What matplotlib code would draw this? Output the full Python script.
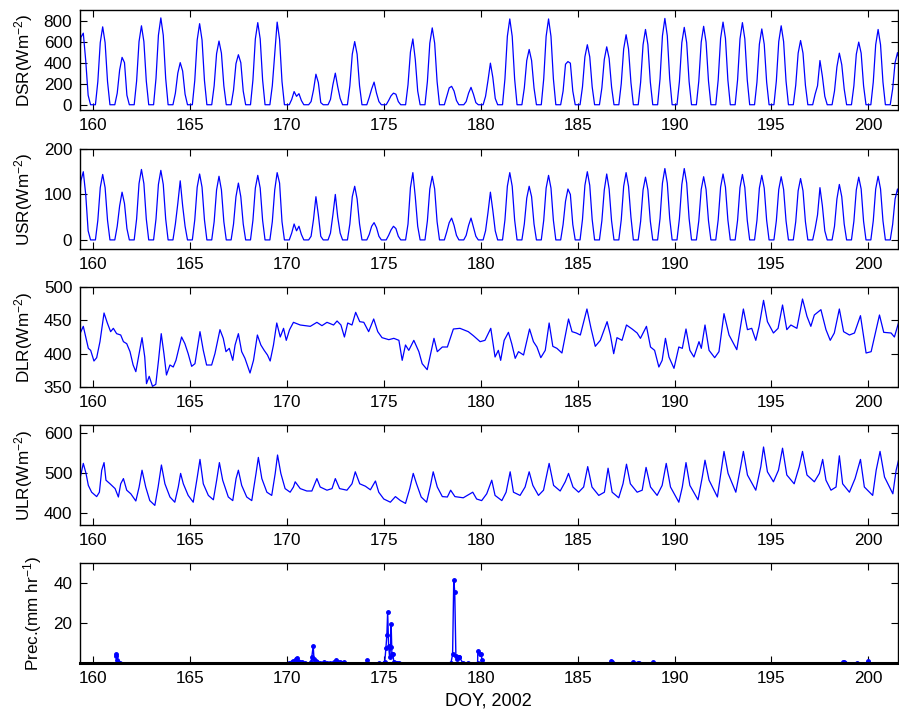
import numpy as np
import matplotlib
matplotlib.use("Agg")
import matplotlib.pyplot as plt

plt.rcParams['font.family'] = ['Liberation Sans', 'DejaVu Sans']
plt.rcParams['mathtext.fontset'] = 'custom'
plt.rcParams['mathtext.rm'] = 'Liberation Sans'
plt.rcParams['mathtext.it'] = 'Liberation Sans:italic'

# ---- data ----
DAYS = list(range(159, 202))
HOURS = [0, 3, 6, 9, 12, 15, 18, 21]

# downward shortwave, one row per day, 3-hourly readings (W m-2)
DSR = [
    [0, 0, 200, 640, 680, 420, 90, 0],    # 159
    [0, 0, 220, 590, 740, 590, 220, 0],
    [0, 0, 110, 330, 450, 400, 90, 0],
    [0, 0, 225, 600, 750, 600, 225, 0],
    [0, 0, 250, 660, 825, 660, 250, 0],
    [0, 0, 110, 300, 400, 320, 100, 0],   # 164
    [0, 0, 230, 615, 770, 615, 230, 0],
    [0, 0, 180, 485, 605, 490, 180, 0],
    [0, 0, 140, 390, 475, 400, 130, 0],
    [0, 0, 235, 625, 780, 625, 235, 0],
    [0, 0, 180, 480, 785, 620, 220, 0],   # 169
    [0, 0, 50, 125, 80, 105, 40, 0],
    [0, 0, 30, 140, 290, 210, 20, 0],
    [0, 0, 50, 190, 300, 170, 60, 0],
    [0, 0, 180, 480, 600, 480, 180, 0],
    [0, 0, 70, 150, 215, 110, 30, 0],     # 174
    [0, 0, 40, 85, 110, 100, 30, 0],
    [0, 0, 190, 500, 625, 430, 130, 0],
    [0, 0, 220, 585, 730, 585, 220, 0],
    [0, 0, 80, 160, 175, 130, 40, 0],
    [0, 0, 30, 110, 165, 100, 20, 0],     # 179
    [0, 0, 80, 230, 395, 260, 60, 0],
    [0, 0, 245, 650, 815, 650, 245, 0],
    [0, 0, 160, 420, 525, 420, 160, 0],
    [0, 0, 245, 650, 815, 650, 245, 0],
    [0, 0, 130, 385, 410, 395, 130, 0],   # 184
    [0, 0, 170, 455, 570, 455, 170, 0],
    [0, 0, 160, 430, 550, 440, 170, 0],
    [0, 0, 200, 530, 665, 530, 210, 0],
    [0, 0, 215, 570, 715, 570, 215, 0],
    [0, 0, 245, 655, 820, 655, 245, 0],   # 189
    [0, 0, 220, 590, 735, 590, 220, 0],
    [0, 0, 225, 595, 745, 595, 225, 0],
    [0, 0, 235, 630, 785, 630, 235, 0],
    [0, 0, 235, 625, 780, 625, 235, 0],
    [0, 0, 215, 575, 720, 575, 215, 0],   # 194
    [0, 0, 225, 600, 750, 600, 225, 0],
    [0, 0, 185, 490, 610, 490, 185, 0],
    [0, 0, 100, 180, 420, 270, 80, 0],
    [0, 0, 130, 360, 490, 380, 150, 0],
    [0, 0, 180, 480, 595, 490, 180, 0],   # 199
    [0, 0, 215, 570, 715, 570, 215, 0],
    [0, 0, 150, 400, 495, 400, 150, 0],
]

# upward shortwave, same layout
USR = [
    [0, 0, 50, 130, 150, 100, 20, 0],     # 159
    [0, 0, 43, 115, 144, 115, 43, 0],
    [0, 0, 30, 75, 105, 80, 25, 0],
    [0, 0, 46, 124, 155, 124, 46, 0],
    [0, 0, 46, 122, 153, 122, 46, 0],
    [0, 0, 35, 80, 130, 75, 30, 0],       # 164
    [0, 0, 44, 116, 145, 116, 44, 0],
    [0, 0, 40, 110, 140, 110, 40, 0],
    [0, 0, 35, 95, 125, 95, 35, 0],
    [0, 0, 43, 114, 142, 114, 43, 0],
    [0, 0, 40, 110, 148, 125, 40, 0],     # 169
    [0, 0, 15, 35, 20, 30, 12, 0],
    [0, 0, 8, 45, 95, 55, 8, 0],
    [0, 0, 15, 55, 100, 50, 15, 0],
    [0, 0, 35, 95, 118, 90, 35, 0],
    [0, 0, 12, 30, 38, 27, 8, 0],         # 174
    [0, 0, 10, 22, 30, 25, 8, 0],
    [0, 0, 35, 115, 148, 95, 30, 0],
    [0, 0, 42, 112, 140, 112, 40, 0],
    [0, 0, 18, 38, 48, 32, 10, 0],
    [0, 0, 10, 32, 48, 28, 8, 0],         # 179
    [0, 0, 20, 60, 105, 65, 20, 0],
    [0, 0, 44, 118, 148, 118, 44, 0],
    [0, 0, 35, 92, 118, 95, 35, 0],
    [0, 0, 43, 114, 142, 114, 43, 0],
    [0, 0, 34, 85, 112, 100, 34, 0],      # 184
    [0, 0, 45, 120, 150, 120, 45, 0],
    [0, 0, 42, 110, 145, 112, 42, 0],
    [0, 0, 44, 118, 148, 118, 50, 0],
    [0, 0, 41, 110, 138, 110, 41, 0],
    [0, 0, 47, 125, 157, 125, 47, 0],     # 189
    [0, 0, 47, 122, 157, 125, 47, 0],
    [0, 0, 42, 111, 139, 111, 42, 0],
    [0, 0, 44, 116, 145, 116, 44, 0],
    [0, 0, 43, 115, 144, 115, 43, 0],
    [0, 0, 43, 114, 142, 114, 43, 0],     # 194
    [0, 0, 42, 111, 139, 111, 42, 0],
    [0, 0, 40, 108, 135, 108, 40, 0],
    [0, 0, 25, 55, 115, 75, 20, 0],
    [0, 0, 30, 90, 122, 95, 35, 0],
    [0, 0, 41, 110, 138, 112, 41, 0],     # 199
    [0, 0, 42, 112, 140, 112, 42, 0],
    [0, 0, 34, 90, 112, 90, 34, 0],
]

# downward longwave, readings at turning points (DOY, W m-2)
DLR_DOY = [159.33, 159.5, 159.64, 159.76, 159.88, 160.05, 160.19, 160.36, 160.57, 160.74,
           160.91, 161.05, 161.22, 161.43, 161.57, 161.74, 161.91, 162.07, 162.21, 162.38,
           162.53, 162.67, 162.76, 162.9, 163.07, 163.24, 163.38, 163.52, 163.66, 163.79,
           163.97, 164.14, 164.28, 164.57, 164.74, 164.91, 165.09, 165.26, 165.52, 165.69,
           165.86, 166.12, 166.29, 166.55, 166.72, 166.86, 167.03, 167.21, 167.33, 167.5,
           167.67, 167.84, 168.1, 168.28, 168.48, 168.66, 168.83, 169.0, 169.14, 169.31,
           169.48, 169.66, 169.83, 169.97, 170.14, 170.34, 170.69, 171.21, 171.55, 171.81,
           172.07, 172.41, 172.59, 172.79, 172.97, 173.14, 173.36, 173.55, 173.76, 173.97,
           174.22, 174.48, 174.69, 174.91, 175.26, 175.52, 175.78, 175.95, 176.12, 176.29,
           176.55, 176.81, 176.98, 177.24, 177.59, 177.76, 178.02, 178.28, 178.45, 178.59,
           178.93, 179.36, 179.62, 179.97, 180.22, 180.52, 180.74, 180.91, 181.03, 181.21,
           181.43, 181.6, 181.78, 181.95, 182.21, 182.52, 182.72, 182.9, 183.1, 183.33,
           183.53, 183.72, 183.93, 184.19, 184.53, 184.71, 184.93, 185.14, 185.48, 185.69,
           185.91, 186.17, 186.52, 186.69, 186.86, 187.03, 187.29, 187.52, 187.81, 188.07,
           188.24, 188.55, 188.76, 188.97, 189.19, 189.36, 189.53, 189.71, 189.97, 190.22,
           190.4, 190.59, 190.79, 191.0, 191.26, 191.38, 191.57, 191.78, 192.07, 192.29,
           192.55, 192.81, 193.21, 193.55, 193.76, 193.98, 194.19, 194.36, 194.59, 194.79,
           195.1, 195.34, 195.57, 195.79, 196.0, 196.31, 196.6, 196.83, 197.03, 197.21,
           197.55, 197.81, 198.03, 198.24, 198.5, 198.72, 199.02, 199.28, 199.59, 199.88,
           200.14, 200.31, 200.57, 200.79, 201.17, 201.34, 201.6]
DLR_VAL = [430, 441, 423, 408, 405, 389, 394, 418, 461, 446,
           433, 438, 430, 428, 418, 415, 403, 383, 373, 400,
           424, 395, 355, 366, 351, 354, 390, 430, 400, 368,
           383, 380, 390, 425, 415, 400, 381, 385, 433, 405,
           383, 383, 400, 436, 423, 403, 408, 390, 413, 430,
           403, 393, 371, 390, 428, 413, 405, 398, 389, 413,
           446, 425, 438, 420, 436, 447, 443, 441, 447, 442,
           447, 443, 449, 443, 425, 446, 443, 462, 448, 447,
           433, 452, 433, 424, 421, 423, 420, 390, 413, 405,
           420, 403, 385, 376, 423, 403, 410, 410, 425, 437,
           438, 433, 427, 418, 420, 438, 395, 405, 390, 420,
           432, 415, 393, 403, 398, 437, 418, 410, 394, 405,
           446, 411, 408, 401, 452, 433, 431, 428, 467, 438,
           411, 420, 448, 428, 400, 424, 420, 443, 437, 431,
           423, 441, 410, 405, 380, 390, 423, 395, 378, 410,
           408, 437, 405, 395, 418, 408, 443, 405, 394, 403,
           460, 428, 406, 467, 436, 438, 420, 441, 480, 448,
           431, 438, 473, 436, 443, 438, 482, 456, 441, 458,
           466, 436, 420, 431, 467, 433, 428, 431, 457, 401,
           403, 425, 458, 432, 431, 425, 451]

# upward longwave, readings at turning points (DOY, W m-2)
ULR_DOY = [159.33, 159.5, 159.64, 159.76, 159.93, 160.19, 160.33, 160.45, 160.57, 160.67,
           160.88, 161.14, 161.31, 161.43, 161.57, 161.74, 161.95, 162.21, 162.38, 162.53,
           162.72, 162.93, 163.19, 163.36, 163.53, 163.71, 163.97, 164.22, 164.4, 164.52,
           164.66, 164.91, 165.17, 165.38, 165.52, 165.69, 165.95, 166.21, 166.38, 166.52,
           166.69, 166.98, 167.21, 167.38, 167.5, 167.67, 167.93, 168.19, 168.41, 168.53,
           168.71, 168.97, 169.22, 169.4, 169.52, 169.69, 169.91, 170.17, 170.34, 170.43,
           170.69, 171.03, 171.29, 171.55, 171.72, 172.07, 172.33, 172.5, 172.72, 173.1,
           173.36, 173.53, 173.76, 174.05, 174.31, 174.57, 174.74, 175.0, 175.34, 175.6,
           175.86, 176.12, 176.34, 176.52, 176.69, 176.93, 177.21, 177.41, 177.55, 177.76,
           178.02, 178.28, 178.45, 178.67, 179.1, 179.59, 179.79, 180.05, 180.31, 180.57,
           180.74, 181.09, 181.31, 181.52, 181.69, 182.03, 182.29, 182.5, 182.69, 182.98,
           183.24, 183.53, 183.76, 184.1, 184.36, 184.53, 184.76, 185.05, 185.31, 185.52,
           185.74, 186.09, 186.38, 186.57, 186.78, 187.12, 187.34, 187.52, 187.72, 188.07,
           188.33, 188.53, 188.76, 189.1, 189.36, 189.57, 189.79, 190.22, 190.4, 190.59,
           190.79, 191.21, 191.43, 191.57, 191.78, 192.21, 192.41, 192.55, 192.76, 193.16,
           193.41, 193.55, 193.76, 194.19, 194.45, 194.59, 194.79, 195.1, 195.36, 195.57,
           195.79, 196.17, 196.43, 196.6, 196.83, 197.21, 197.47, 197.64, 197.81, 198.07,
           198.33, 198.5, 198.67, 199.02, 199.31, 199.59, 199.79, 200.22, 200.4, 200.6,
           200.83, 201.26, 201.43, 201.6]
ULR_VAL = [486, 524, 499, 469, 452, 441, 452, 507, 526, 482,
           473, 461, 440, 473, 486, 457, 448, 430, 465, 507,
           465, 431, 419, 465, 520, 473, 440, 427, 465, 499,
           473, 444, 427, 490, 534, 473, 444, 433, 482, 526,
           482, 440, 431, 486, 507, 469, 440, 431, 499, 539,
           486, 452, 444, 499, 545, 499, 461, 452, 465, 478,
           461, 455, 455, 486, 465, 457, 461, 486, 461, 457,
           473, 503, 473, 467, 458, 480, 452, 435, 427, 441,
           431, 424, 461, 499, 473, 440, 427, 469, 503, 465,
           441, 440, 457, 441, 438, 452, 435, 431, 448, 482,
           444, 431, 452, 503, 452, 444, 465, 503, 469, 444,
           457, 524, 469, 455, 478, 499, 465, 452, 465, 516,
           465, 444, 452, 512, 452, 438, 473, 522, 473, 452,
           457, 514, 465, 444, 469, 524, 465, 427, 465, 526,
           469, 433, 490, 532, 482, 440, 507, 554, 499, 452,
           516, 554, 495, 457, 516, 565, 503, 478, 507, 562,
           495, 473, 516, 554, 495, 478, 499, 534, 482, 457,
           465, 543, 473, 452, 486, 534, 465, 444, 507, 554,
           490, 448, 507, 541]

# precipitation readings (DOY, mm hr-1); gaps of no rain are left out
PREC_DOY = [161.17, 161.2, 161.25, 161.3, 161.4,
            170.1, 170.25, 170.34, 170.45, 170.52, 170.6, 170.7, 170.78, 170.95,
            171.25, 171.29, 171.36, 171.4, 171.48, 171.55, 171.7, 171.9, 172.05, 172.24,
            172.45, 172.55, 172.65, 172.72, 172.85, 172.93,
            174.12, 174.76,
            175.02, 175.05, 175.11, 175.16, 175.2, 175.25, 175.3, 175.35, 175.38, 175.42,
            175.47, 175.52, 175.64, 175.7, 175.76,
            178.47, 178.55, 178.61, 178.66, 178.72, 178.8, 178.86, 178.9, 179.07, 179.36,
            179.84, 179.85, 179.95, 180.02, 180.07,
            186.74, 186.76, 187.86, 188.1, 188.16, 188.9,
            198.67, 198.75, 198.81, 199.41, 199.97, 200.0]
PREC_MM = [4.5, 3.5, 1.5, 0.7, 0.2,
           0.2, 0.5, 1.0, 2.0, 2.7, 1.0, 0.5, 0.4, 0.2,
           0.5, 3.2, 8.6, 1.9, 0.8, 0.5, 0.2, 0.3, 0.2, 0.1,
           0.5, 1.4, 0.6, 0.3, 0.2, 0.3,
           1.4, 0.1,
           0.0, 0.5, 7.5, 14.0, 25.6, 8.6, 3.0, 8.0, 19.3, 4.4,
           4.4, 0.3, 0.2, 0.1, 0.1,
           0.2, 4.4, 41.3, 35.7, 3.5, 2.0, 3.0, 3.0, 0.1, 0.1,
           0.0, 6.0, 4.6, 4.4, 1.5,
           1.0, 0.6, 0.3, 0.2, 0.2, 0.3,
           0.5, 0.3, 0.2, 0.2, 1.0, 0.4]

XTICKS = [160, 165, 170, 175, 180, 185, 190, 195, 200]
XLIM = (159.33, 201.5)

# ---- build series ----
t_grid = (np.array(DAYS)[:, None] + np.array(HOURS)[None, :] / 24.0).ravel()
dsr = np.array(DSR, dtype=float).ravel()
usr = np.array(USR, dtype=float).ravel()

p_t = np.array(PREC_DOY)
p_v = np.array(PREC_MM)
brk = np.where(np.diff(p_t) > 0.3)[0] + 1
p_t = np.insert(p_t, brk, np.nan)
p_v = np.insert(p_v, brk, np.nan)

panels = [
    (t_grid, dsr, 'DSR(Wm$^{-2}$)', (-50, 900), [0, 200, 400, 600, 800]),
    (t_grid, usr, 'USR(Wm$^{-2}$)', (-20, 200), [0, 100, 200]),
    (np.array(DLR_DOY), np.array(DLR_VAL), 'DLR(Wm$^{-2}$)', (350, 500), [350, 400, 450, 500]),
    (np.array(ULR_DOY), np.array(ULR_VAL), 'ULR(Wm$^{-2}$)', (370, 620), [400, 500, 600]),
    (p_t, p_v, 'Prec.(mm hr$^{-1}$)', (0, 50), [20, 40]),
]

W, H = 899, 709
fig = plt.figure(figsize=(W / 100, H / 100), dpi=100)
tops = [10, 149, 287, 425, 563]
ph = 100
axw = 817.5

for i, (x, y, lab, ylim, yt) in enumerate(panels):
    ax = fig.add_axes([80 / W, 1 - (tops[i] + ph) / H, axw / W, ph / H])
    if i == 4:
        ax.plot(x, y, color='blue', lw=1.0, marker='.', ms=5)
    else:
        ax.plot(x, y, color='blue', lw=0.9)
    ax.set_xlim(XLIM)
    ax.set_ylim(ylim)
    ax.set_xticks(XTICKS)
    ax.set_yticks(yt)
    ax.tick_params(direction='in', top=True, right=True, length=5, width=0.8,
                   labelsize=12.3, pad=5.5)
    for s in ['top', 'left', 'right', 'bottom']:
        ax.spines[s].set_linewidth(1.0)
    ax.set_ylabel(lab, fontsize=12.3)
    right_px = 44 if i == 4 else 35
    ax.yaxis.set_label_coords((right_px - 80) / axw, 0.5)
    if i == 4:
        ax.spines['bottom'].set_linewidth(2.2)
        ax.set_xlabel('DOY, 2002', fontsize=13, labelpad=5)

fig.savefig('out.png', dpi=100)
